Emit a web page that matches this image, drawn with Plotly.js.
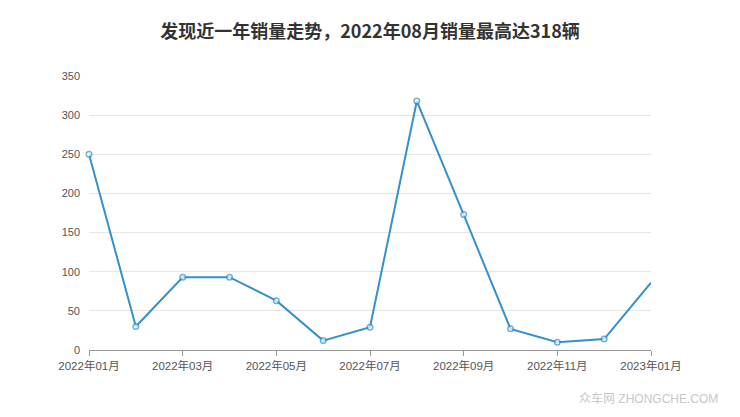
<!DOCTYPE html>
<html><head><meta charset="utf-8">
<script src="https://cdn.plot.ly/plotly-3.0.1.min.js"></script>
<style>html,body{margin:0;padding:0;background:#fff;}#chart{width:740px;height:417px;}</style>
</head><body><div id="chart"></div>
<script>
const months = ["2022年01月","2022年02月","2022年03月","2022年04月","2022年05月","2022年06月","2022年07月","2022年08月","2022年09月","2022年10月","2022年11月","2022年12月","2023年01月"];
const sales = [250, 30, 93, 93, 63, 12, 29, 318, 173, 27, 10, 14, 86];
const tickLabels = ["2022年01月","2022年03月","2022年05月","2022年07月","2022年09月","2022年11月","2023年01月"];
const yTicks = [0, 50, 100, 150, 200, 250, 300, 350];

const trace = {
  x: months.map((m, i) => i),
  y: sales,
  type: 'scatter',
  mode: 'lines+markers',
  line: {color: '#3590cc', width: 2},
  marker: {symbol: 'circle', size: sales.map((v, i) => i === sales.length - 1 ? 0 : 5.5), color: '#ffffff', line: {width: 1.5, color: '#3590cc'}},
  cliponaxis: false,
  hoverinfo: 'x+y'
};
const font = "'Noto Sans CJK SC', 'Noto Sans', sans-serif";
const tickFontFam = "'Liberation Sans', 'Noto Sans CJK SC', sans-serif";
const layout = {
  width: 740, height: 417,
  margin: {l: 89, r: 89, t: 76, b: 67},
  paper_bgcolor: '#fff', plot_bgcolor: '#fff',
  showlegend: false,
  title: {text: '发现近一年销量走势，2022年08月销量最高达318辆', x: 0.5, xanchor: 'center', y: 0.925, yanchor: 'middle',
          font: {family: font, size: 18, color: '#333', weight: 'bold'}},
  xaxis: {
    range: [0, 12], showgrid: false, zeroline: false,
    tickmode: 'array', tickvals: tickLabels.map(t => months.indexOf(t)), ticktext: tickLabels,
    ticks: 'outside', ticklen: 5, tickcolor: '#999', tickwidth: 1,
    showline: true, linecolor: '#999', linewidth: 1,
    tickfont: {family: tickFontFam, size: 11.5, color: '#555'}
  },
  yaxis: {
    range: [0, 350], tickmode: 'array', tickvals: yTicks,
    showgrid: true, gridcolor: '#e6e6e6', gridwidth: 1, zeroline: false,
    showline: false, ticks: '', ticklabelstandoff: 8,
    tickfont: {family: tickFontFam, size: 11, color: '#555'}
  },
  annotations: [{
    text: '众车网 ZHONGCHE.COM', xref: 'paper', yref: 'paper', x: 1 + 69/562, y: -48/274,
    xanchor: 'right', yanchor: 'middle', showarrow: false,
    font: {family: tickFontFam, size: 12, color: '#c8c8c8'}
  }]
};
Plotly.newPlot('chart', [trace], layout, {displayModeBar: false, staticPlot: true});
</script></body></html>
